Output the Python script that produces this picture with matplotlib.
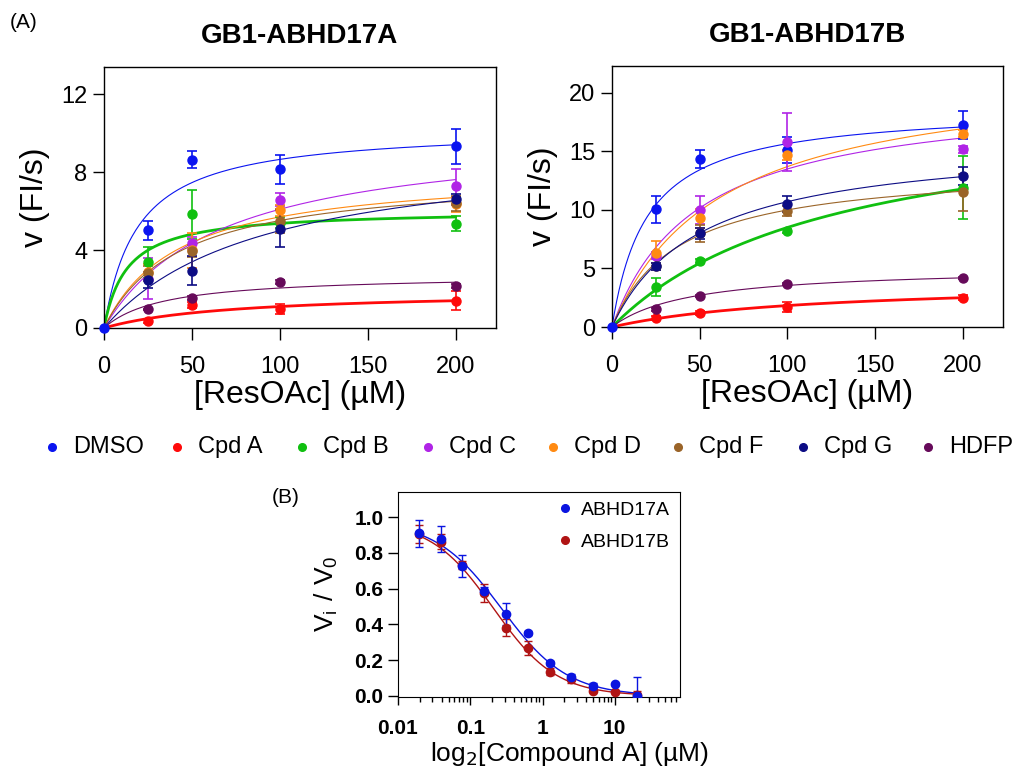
import numpy as np
import matplotlib
matplotlib.use("Agg")
import matplotlib.pyplot as plt
from matplotlib.lines import Line2D
from matplotlib.ticker import LogLocator, NullFormatter, FixedLocator

plt.rcParams["font.family"] = ["Liberation Sans", "DejaVu Sans"]

# ---- data: Michaelis-Menten panels ----
substrate = [0, 25, 50, 100, 200]
treatments = ["DMSO", "Cpd A", "Cpd B", "Cpd C", "Cpd D", "Cpd F", "Cpd G", "HDFP"]
colors = ["#0a14f0", "#ff0a0a", "#10c010", "#b024e6", "#ff8a12", "#9a6428", "#0c0c84", "#660a5a"]
thick = ["Cpd A", "Cpd B"]

# GB1-ABHD17A: mean rates, error bars, fitted Vmax / Km
rate_a = {
    "DMSO":  [0, 5.01, 8.65, 8.14, 9.34],
    "Cpd A": [0, 0.38, 1.20, 0.98, 1.41],
    "Cpd B": [0, 3.38, 5.84, 5.41, 5.36],
    "Cpd C": [0, 2.52, 4.36, 6.59, 7.28],
    "Cpd D": [0, 2.90, 4.00, 6.04, 6.35],
    "Cpd F": [0, 2.80, 3.95, 5.50, 6.40],
    "Cpd G": [0, 2.45, 2.95, 5.10, 6.60],
    "HDFP":  [0, 0.95, 1.55, 2.35, 2.15],
}
err_a = {
    "DMSO":  [0, 0.50, 0.45, 0.76, 0.90],
    "Cpd A": [0, 0.10, 0.15, 0.25, 0.50],
    "Cpd B": [0, 0.80, 1.26, 0.30, 0.40],
    "Cpd C": [0, 1.05, 0.30, 0.35, 0.90],
    "Cpd D": [0, 0.40, 0.90, 0.30, 0.40],
    "Cpd F": [0, 0.40, 0.30, 0.60, 0.40],
    "Cpd G": [0, 0.40, 0.75, 0.95, 0.30],
    "HDFP":  [0, 0.05, 0.10, 0.10, 0.10],
}
vmax_a = {"DMSO": 10.3, "Cpd A": 1.92, "Cpd B": 6.07, "Cpd C": 10.16,
          "Cpd D": 8.12, "Cpd F": 7.92, "Cpd G": 9.5, "HDFP": 2.75}
km_a = {"DMSO": 19, "Cpd A": 74, "Cpd B": 13, "Cpd C": 66.7,
        "Cpd D": 42.4, "Cpd F": 43.6, "Cpd G": 90, "HDFP": 34}

# GB1-ABHD17B
rate_b = {
    "DMSO":  [0, 10.06, 14.34, 15.14, 17.29],
    "Cpd A": [0, 0.75, 1.20, 1.70, 2.50],
    "Cpd B": [0, 3.40, 5.65, 8.20, 11.90],
    "Cpd C": [0, 6.10, 10.00, 15.80, 15.20],
    "Cpd D": [0, 6.30, 9.30, 14.70, 16.50],
    "Cpd F": [0, 5.20, 8.00, 9.90, 11.50],
    "Cpd G": [0, 5.20, 8.00, 10.50, 12.90],
    "HDFP":  [0, 1.50, 2.65, 3.70, 4.20],
}
err_b = {
    "DMSO":  [0, 1.17, 0.77, 1.10, 1.20],
    "Cpd A": [0, 0.15, 0.15, 0.45, 0.20],
    "Cpd B": [0, 0.75, 0.20, 0.20, 2.70],
    "Cpd C": [0, 0.30, 1.20, 2.50, 0.30],
    "Cpd D": [0, 1.05, 0.80, 0.40, 0.30],
    "Cpd F": [0, 0.30, 0.70, 0.40, 1.60],
    "Cpd G": [0, 0.30, 0.50, 0.70, 0.80],
    "HDFP":  [0, 0.10, 0.10, 0.10, 0.10],
}
vmax_b = {"DMSO": 18.8, "Cpd A": 3.94, "Cpd B": 19.28, "Cpd C": 20.09,
          "Cpd D": 22.2, "Cpd F": 13.8, "Cpd G": 16.06, "HDFP": 5.14}
km_b = {"DMSO": 20, "Cpd A": 115, "Cpd B": 126.8, "Cpd C": 48.8,
        "Cpd D": 62, "Cpd F": 38, "Cpd G": 50, "HDFP": 44.8}

# ---- data: dose response ----
conc = [0.0195, 0.039, 0.078, 0.156, 0.3125, 0.625, 1.25, 2.5, 5, 10, 20]
ratio_17a = [0.91, 0.877, 0.728, 0.588, 0.459, 0.351, 0.183, 0.104, 0.056, 0.067, 0.0]
err_17a = [0.077, 0.073, 0.06, 0.02, 0.06, 0.01, 0.01, 0.02, 0.015, 0.005, 0.105]
ratio_17b = [0.907, 0.864, 0.733, 0.575, 0.383, 0.267, 0.136, 0.093, 0.030, 0.024, 0.006]
err_17b = [0.05, 0.04, 0.02, 0.05, 0.045, 0.04, 0.02, 0.02, 0.01, 0.01, 0.02]
# top, IC50, hill
fit_17a = (0.98, 0.27, 0.95)
fit_17b = (0.98, 0.21, 1.0)

BLUE_B = "#0a14e0"
RED_B = "#b01414"


def mm(s, vmax, km):
    return vmax * s / (km + s)


def kinetics_panel(ax, rates, errs, vmax, km, ylim, yticks, title):
    s = np.linspace(0, 200, 300)
    for name, c in zip(treatments, colors):
        lw = 2.0 if name in thick else 0.8
        ax.plot(s, mm(s, vmax[name], km[name]), color=c, lw=lw, zorder=2)
    for name, c in zip(treatments, colors):
        ax.errorbar(substrate[1:], rates[name][1:], yerr=errs[name][1:], fmt="o",
                    color=c, ms=6.5, capsize=3.5, elinewidth=1.2, capthick=1.2,
                    zorder=3, clip_on=False)
    ax.plot(substrate[0], rates["DMSO"][0], "o", color=colors[0], ms=6.5,
            zorder=4, clip_on=False)
    ax.set_xlim(0, 223)
    ax.set_ylim(*ylim)
    ax.set_xticks([0, 50, 100, 150, 200])
    ax.set_yticks(yticks)
    ax.tick_params(axis="x", direction="out", length=8.5, width=1, labelsize=17, pad=12)
    ax.tick_params(axis="y", direction="out", length=8, width=1, labelsize=17, pad=4)
    ax.set_xlabel("[ResOAc] (µM)", fontsize=23, labelpad=1)
    ax.set_ylabel("v (FI/s)", fontsize=23, labelpad=8)
    ax.set_title(title, fontsize=20, fontweight="bold", pad=17)
    for sp in ax.spines.values():
        sp.set_linewidth(1)


fig = plt.figure(figsize=(10.16, 7.70), dpi=100)

ax1 = fig.add_axes([104 / 1016, 1 - 328 / 770, 392 / 1016, 261 / 770])
kinetics_panel(ax1, rate_a, err_a, vmax_a, km_a, (0, 13.4), [0, 4, 8, 12], "GB1-ABHD17A")

ax2 = fig.add_axes([612 / 1016, 1 - 327 / 770, 391 / 1016, 261 / 770])
kinetics_panel(ax2, rate_b, err_b, vmax_b, km_b, (0, 22.3), [0, 5, 10, 15, 20], "GB1-ABHD17B")

fig.text(10 / 1016, 1 - 22 / 770, "(A)", fontsize=15, va="center")

# shared legend, evenly spaced entries
leg_y = 1 - 447 / 770
for i, (name, c) in enumerate(zip(treatments, colors)):
    xd = (52 + 125.2 * i) / 1016
    fig.add_artist(Line2D([xd], [leg_y], transform=fig.transFigure, ls="none",
                          marker="o", ms=5.5, color=c))
    fig.text(xd + 21 / 1016, leg_y, name, fontsize=17, ha="left", va="center")

# ---- panel B ----
ax3 = fig.add_axes([398 / 1016, 1 - 696.5 / 770, 281.5 / 1016, 204.8 / 770])
xs = np.logspace(np.log10(0.0195), np.log10(20), 300)
for fit, c in [(fit_17a, BLUE_B), (fit_17b, RED_B)]:
    top, ic50, h = fit
    ax3.plot(xs, top / (1 + (xs / ic50) ** h), color=c, lw=1.0, zorder=2)
for ratio, err, c in [(ratio_17b, err_17b, RED_B), (ratio_17a, err_17a, BLUE_B)]:
    ax3.errorbar(conc, ratio, yerr=err, fmt="o", color=c, ms=6, capsize=3,
                 elinewidth=1, capthick=1, zorder=3)
ax3.set_xscale("log")
ax3.set_xlim(0.01, 78.6)
ax3.set_ylim(-0.003, 1.143)
ax3.xaxis.set_major_locator(FixedLocator([0.01, 0.1, 1, 10]))
ax3.set_xticklabels(["0.01", "0.1", "1", "10"])
ax3.xaxis.set_minor_locator(LogLocator(base=10, subs=np.arange(2, 10), numticks=20))
ax3.xaxis.set_minor_formatter(NullFormatter())
ax3.set_yticks([0, 0.2, 0.4, 0.6, 0.8, 1.0])
ax3.set_yticklabels(["0.0", "0.2", "0.4", "0.6", "0.8", "1.0"])
ax3.tick_params(axis="x", which="major", direction="out", length=6, width=1,
                labelsize=15, pad=10)
ax3.tick_params(axis="y", which="major", direction="out", length=7.5, width=1,
                labelsize=15, pad=3)
ax3.tick_params(which="minor", direction="out", length=3.5, width=1)
for lab in ax3.get_xticklabels() + ax3.get_yticklabels():
    lab.set_fontweight("bold")
ax3.set_xlabel(r"log$_2$[Compound A] (µM)", fontsize=19)
ax3.xaxis.set_label_coords((570 - 398) / 281.5, -0.212)
ax3.set_ylabel(r"$\mathregular{V_i\ /\ V_0}$", fontsize=19, labelpad=10)
leg_handles = [Line2D([], [], ls="none", marker="o", ms=5.5, color=BLUE_B),
               Line2D([], [], ls="none", marker="o", ms=5.5, color=RED_B)]
ax3.legend(leg_handles, ["ABHD17A", "ABHD17B"], loc="upper right", frameon=False,
           fontsize=14, handletextpad=0.2, labelspacing=0.75, borderaxespad=0.1,
           handlelength=1.2)
fig.text(272 / 1016, 1 - 497 / 770, "(B)", fontsize=15, va="center")

fig.savefig("out.png", dpi=100)
